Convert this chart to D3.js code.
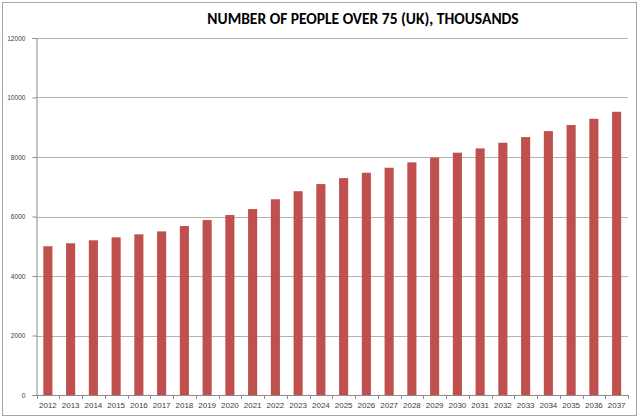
<!DOCTYPE html>
<html><head><meta charset="utf-8">
<script src="https://cdn.jsdelivr.net/npm/d3@7"></script>
<style>body{margin:0;background:#fff}svg{display:block}</style>
</head><body>
<svg id="c" width="640" height="420"></svg>
<script>
const title = "NUMBER OF PEOPLE OVER 75 (UK), THOUSANDS";
const years = ["2012","2013","2014","2015","2016","2017","2018","2019","2020","2021","2022","2023","2024","2025","2026","2027","2028","2029","2030","2031","2032","2033","2034","2035","2036","2037"];
const values = [5000,5100,5200,5300,5400,5500,5680,5880,6050,6250,6580,6850,7090,7290,7470,7640,7820,7980,8145,8290,8480,8670,8870,9075,9285,9520];
const yTicks = [0,2000,4000,6000,8000,10000,12000];

const svg = d3.select("#c");
const L = 36.5, R = 628, T = 38, B = 395;
svg.append("rect").attr("x",2.5).attr("y",2.5).attr("width",634).attr("height",413)
  .attr("fill","#fff").attr("stroke","#a6a6a6").attr("stroke-width",1);

const x = d3.scaleBand().domain(years).range([L,R]).paddingInner(0.6).paddingOuter(0.3);
const y = d3.scaleLinear().domain([0,12000]).range([B,T]);

// gridlines
svg.append("g").selectAll("line").data(yTicks.slice(1)).join("line")
  .attr("x1",L).attr("x2",R).attr("y1",d=>Math.round(y(d))+0.5).attr("y2",d=>Math.round(y(d))+0.5)
  .attr("stroke","#b3b3b3").attr("stroke-width",1);

// bars
svg.append("g").selectAll("rect").data(values).join("rect")
  .attr("x",(d,i)=>x(years[i])).attr("width",x.bandwidth())
  .attr("y",d=>y(d)).attr("height",d=>B-y(d)).attr("fill","#c0504d");

// y axis
const ya = svg.append("g").attr("transform",`translate(${L},0)`)
  .call(d3.axisLeft(y).tickValues(yTicks).tickSize(4).tickPadding(7).tickFormat(d3.format("d")));
ya.select(".domain").attr("stroke","#8c8c8c");
ya.selectAll(".tick line").attr("stroke","#8c8c8c");
ya.selectAll("text").attr("font-family","'Liberation Sans', Arial, sans-serif").attr("font-size",6.6).attr("fill","#404040");

// x axis
const xa = svg.append("g").attr("transform",`translate(0,${B})`)
  .call(d3.axisBottom(x).tickSize(0).tickPadding(7));
xa.select(".domain").attr("stroke","#8c8c8c");
xa.selectAll("text").attr("font-family","'Liberation Sans', Arial, sans-serif").attr("font-size",8).attr("fill","#404040");
// category boundary ticks
const bounds = d3.range(years.length+1).map(i=>L + i*(R-L)/years.length);
svg.append("g").selectAll("line").data(bounds).join("line")
  .attr("x1",d=>Math.round(d)+0.5).attr("x2",d=>Math.round(d)+0.5).attr("y1",B).attr("y2",B+4)
  .attr("stroke","#8c8c8c");

svg.append("text").attr("x",363).attr("y",24).attr("text-anchor","middle")
  .attr("font-family","Carlito, Calibri, Lato, sans-serif").attr("font-weight","bold").attr("font-size",15.5)
  .attr("fill","#000").text(title);
</script>
</body></html>
